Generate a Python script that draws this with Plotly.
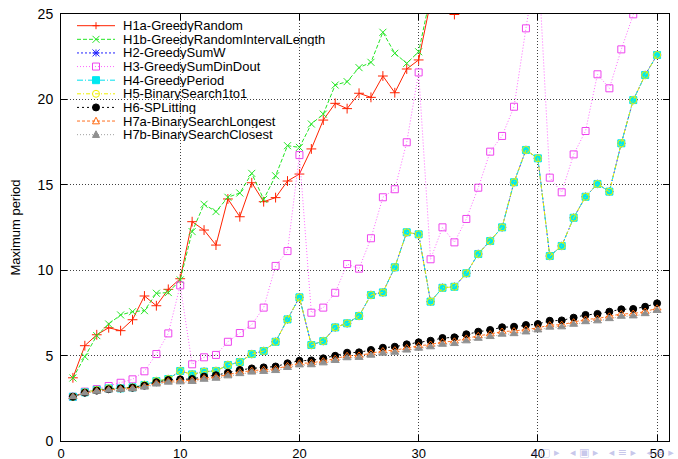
import plotly.graph_objects as go

x_vals = list(range(1, 51))

h1a_greedy_random = [3.70, 5.58, 6.22, 6.63, 6.46, 7.10, 8.49, 7.92, 8.88, 9.50,
                     12.84, 12.35, 11.47, 14.17, 13.13, 15.12, 14.01, 14.25, 15.22, 15.63,
                     17.10, 18.79, 19.77, 19.46, 20.36, 20.12, 21.37, 20.39, 21.78, 22.31,
                     25.70, 26.50, 24.97, 27.00, 27.50, 28.30, 28.90, 29.60, 30.20, 31.00,
                     31.50, 32.30, 33.00, 33.60, 34.40, 35.00, 35.80, 36.50, 37.10, 38.00]

h1b_greedy_random_interval = [3.69, 4.94, 6.17, 6.85, 7.38, 7.57, 7.63, 8.65, 8.69, 9.43,
                              12.26, 13.86, 13.43, 14.27, 14.52, 15.67, 14.15, 15.53, 17.29, 17.19,
                              18.56, 19.14, 20.84, 21.04, 21.86, 22.17, 23.93, 22.70, 22.11, 22.79,
                              26.10, 26.90, 27.60, 28.20, 28.90, 29.50, 30.30, 30.80, 31.60, 32.20,
                              32.90, 33.50, 34.20, 34.90, 35.50, 36.20, 36.80, 37.50, 38.10, 38.90]

h3_greedy_sum_din_dout = [2.59, 2.89, 3.04, 3.22, 3.41, 3.61, 4.08, 5.09, 6.30, 9.11,
                          4.49, 4.90, 5.04, 5.81, 6.32, 6.81, 7.81, 10.25, 11.12, 16.74,
                          7.51, 7.81, 8.68, 10.36, 10.09, 11.87, 14.27, 14.74, 17.49, 21.58,
                          10.64, 12.51, 11.63, 13.00, 14.83, 16.94, 17.86, 19.57, 24.16, 28.50,
                          15.42, 14.56, 16.78, 18.15, 21.47, 20.65, 22.93, 24.98, 27.00, 29.00]

h4_greedy_period = [2.59, 2.85, 2.99, 3.08, 3.08, 3.14, 3.28, 3.51, 3.63, 4.10,
                    3.90, 4.06, 4.10, 4.45, 4.62, 5.09, 5.27, 5.81, 7.12, 8.41,
                    5.62, 5.85, 6.65, 6.89, 7.32, 8.55, 8.70, 10.17, 12.22, 12.10,
                    8.16, 8.97, 9.03, 9.82, 10.95, 11.71, 12.51, 15.15, 17.04, 16.55,
                    10.83, 11.42, 13.07, 14.30, 15.05, 14.60, 17.43, 19.96, 21.43, 22.60]

h2_greedy_sum_w = list(h4_greedy_period)
h5_binary_search_1to1 = list(h4_greedy_period)

h6_splitting = [2.59, 2.83, 2.95, 3.03, 3.08, 3.12, 3.24, 3.44, 3.57, 3.61,
                3.63, 3.77, 3.85, 4.00, 4.16, 4.25, 4.31, 4.36, 4.55, 4.70,
                4.72, 4.84, 4.99, 5.17, 5.19, 5.33, 5.46, 5.52, 5.66, 5.78,
                5.87, 6.03, 6.07, 6.25, 6.40, 6.50, 6.66, 6.69, 6.79, 6.85,
                7.04, 7.06, 7.22, 7.38, 7.44, 7.57, 7.71, 7.73, 7.86, 8.06]

h7a_bs_longest = [2.59, 2.82, 2.93, 3.00, 3.05, 3.08, 3.19, 3.38, 3.50, 3.53,
                  3.55, 3.68, 3.75, 3.89, 4.03, 4.12, 4.17, 4.22, 4.40, 4.55,
                  4.57, 4.68, 4.82, 4.99, 5.01, 5.14, 5.27, 5.32, 5.45, 5.57,
                  5.65, 5.80, 5.84, 6.01, 6.16, 6.26, 6.41, 6.44, 6.54, 6.62,
                  6.79, 6.81, 6.96, 7.12, 7.17, 7.30, 7.44, 7.46, 7.58, 7.77]

h7b_bs_closest = [2.58, 2.80, 2.90, 2.97, 3.01, 3.04, 3.14, 3.32, 3.43, 3.45,
                  3.47, 3.60, 3.66, 3.80, 3.93, 4.02, 4.06, 4.11, 4.29, 4.44,
                  4.45, 4.56, 4.70, 4.86, 4.88, 5.01, 5.13, 5.18, 5.31, 5.42,
                  5.50, 5.65, 5.69, 5.85, 6.00, 6.10, 6.24, 6.27, 6.37, 6.49,
                  6.65, 6.67, 6.82, 6.97, 7.02, 7.15, 7.29, 7.31, 7.44, 7.63]

x_ticks = [0, 10, 20, 30, 40, 50]
y_ticks = [0, 5, 10, 15, 20, 25]

FONT = "Liberation Sans, Arial, Helvetica, sans-serif"

# name, values, line colour, dash, marker kind, marker colour
series = [
    ("H1a-GreedyRandom", h1a_greedy_random, "#ff2200", "solid", "plus", "#ff2200"),
    ("H1b-GreedyRandomIntervalLength", h1b_greedy_random_interval, "#22e622", "4px,2px", "x", "#22e622"),
    ("H2-GreedySumW", h2_greedy_sum_w, "#2020ff", "2px,2px", "asterisk", "#2020ff"),
    ("H3-GreedySumDinDout", h3_greedy_sum_din_dout, "#ff66ff", "1px,2px", "square-open", "#ee44ee"),
    ("H4-GreedyPeriod", h4_greedy_period, "#00e0ee", "6px,2px,1px,2px", "square", "#00e8f0"),
    ("H5-BinarySearch1to1", h5_binary_search_1to1, "#eeee00", "4px,2px,1px,2px", "circle-open", "#f0f000"),
    ("H6-SPLitting", h6_splitting, "#000000", "2px,3px", "circle", "#000000"),
    ("H7a-BinarySearchLongest", h7a_bs_longest, "#ff7020", "3px,2px", "triangle-open", "#ff6a10"),
    ("H7b-BinarySearchClosest", h7b_bs_closest, "#a0a0a0", "1px,2px", "triangle", "#909090"),
]

plotly_symbol = {
    "plus": "cross-thin-open",
    "x": "x-thin-open",
    "asterisk": "asterisk-open",
    "square-open": "square-open",
    "square": "square",
    "circle-open": "circle-open",
    "circle": "circle",
    "triangle-open": "triangle-up-open",
    "triangle": "triangle-up",
}

fig = go.Figure()
for name, vals, lc, dash, mk, mc in series:
    fig.add_trace(go.Scatter(
        x=x_vals, y=vals, name=name, mode="lines+markers", showlegend=False,
        line=dict(color=lc, width=1, dash=dash),
        marker=dict(symbol=plotly_symbol[mk], size=7, color=mc,
                    line=dict(color=mc, width=1)),
    ))

# ---- figure geometry (pixels) ----
W, H = 678, 459
L, R, T, B = 61, 9, 14, 18
PW, PH = W - L - R, H - T - B


def px(xp):
    return (xp - L) / PW


def py(yp):
    return (H - B - yp) / PH


shapes = []
annotations = []

# opaque key box (hides the grid under the key)
shapes.append(dict(type="rect", xref="paper", yref="paper", x0=0, x1=px(365),
                   y0=py(142), y1=1, fillcolor="white", line=dict(width=0),
                   layer="between"))


def marker_shapes(kind, cx, cy, color, h=3.5):
    out = []
    base = dict(xref="paper", yref="paper", layer="above", line=dict(color=color, width=1))
    if kind in ("plus", "asterisk"):
        out.append(dict(base, type="line", x0=px(cx - h), x1=px(cx + h), y0=py(cy), y1=py(cy)))
        out.append(dict(base, type="line", x0=px(cx), x1=px(cx), y0=py(cy - h), y1=py(cy + h)))
    if kind in ("x", "asterisk"):
        out.append(dict(base, type="line", x0=px(cx - h), x1=px(cx + h), y0=py(cy - h), y1=py(cy + h)))
        out.append(dict(base, type="line", x0=px(cx - h), x1=px(cx + h), y0=py(cy + h), y1=py(cy - h)))
    if kind in ("square-open", "square"):
        out.append(dict(base, type="rect", x0=px(cx - h), x1=px(cx + h), y0=py(cy + h), y1=py(cy - h),
                        fillcolor=color if kind == "square" else "rgba(0,0,0,0)"))
    if kind in ("circle-open", "circle"):
        out.append(dict(base, type="circle", x0=px(cx - h), x1=px(cx + h), y0=py(cy + h), y1=py(cy - h),
                        fillcolor=color if kind == "circle" else "rgba(0,0,0,0)"))
    if kind in ("triangle-open", "triangle"):
        p = "M {:.5f},{:.5f} L {:.5f},{:.5f} L {:.5f},{:.5f} Z".format(
            px(cx - h), py(cy + h * 0.8), px(cx + h), py(cy + h * 0.8), px(cx), py(cy - h * 1.1))
        out.append(dict(base, type="path", path=p,
                        fillcolor=color if kind == "triangle" else "rgba(0,0,0,0)"))
    return out


row0, dy = 25.7, 13.62
for i, (name, vals, lc, dash, mk, mc) in enumerate(series):
    ry = row0 + dy * i
    shapes.append(dict(type="line", xref="paper", yref="paper", layer="above",
                       x0=px(77), x1=px(115), y0=py(ry), y1=py(ry),
                       line=dict(color=lc, width=1, dash=dash)))
    shapes.extend(marker_shapes(mk, 96, ry, mc))
    annotations.append(dict(xref="paper", yref="paper", x=px(122), y=py(ry),
                            xanchor="left", yanchor="middle", showarrow=False,
                            height=13, borderpad=0,
                            text=name, font=dict(family=FONT, size=13, color="black")))

# beamer navigation symbols (part of the slide)
annotations.append(dict(xref="paper", yref="paper", x=px(676), y=py(452),
                        xanchor="right", yanchor="middle", showarrow=False,
                        text="◂ ▢ ▸   ◂ ▣ ▸   ◂ ≡ ▸   ◂ ≡ ▸",
                        font=dict(family="DejaVu Sans", size=11, color="rgba(130,130,210,0.45)")))

axis_common = dict(
    showline=True, linecolor="black", linewidth=1, mirror="ticks",
    ticks="inside", ticklen=6, tickcolor="black", tickwidth=1,
    showgrid=True, gridcolor="rgba(0,0,0,0.75)", gridwidth=1, griddash="1px,2px",
    zeroline=False, automargin=False,
    tickfont=dict(family=FONT, size=14, color="black"),
)

fig.update_layout(
    template="none",
    width=W, height=H,
    margin=dict(l=L, r=R, t=T, b=B, pad=0),
    paper_bgcolor="white", plot_bgcolor="white",
    font=dict(family=FONT, size=13, color="black"),
    showlegend=False,
    xaxis=dict(axis_common, range=[0, 51], tickvals=x_ticks, ticklabelstandoff=0,
               tickfont=dict(family=FONT, size=13, color="black")),
    yaxis=dict(axis_common, range=[0, 25], tickvals=y_ticks, ticklabelstandoff=4,
               title=dict(text="Maximum period", font=dict(family=FONT, size=13), standoff=14)),
    shapes=shapes,
    annotations=annotations,
)

fig.write_html("out.html", config={"displayModeBar": False},
               post_script="document.body.style.margin='0';")
